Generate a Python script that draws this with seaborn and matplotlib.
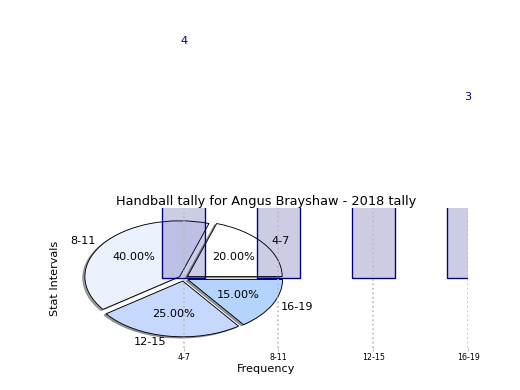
import matplotlib
matplotlib.use("Agg")
import matplotlib.pyplot as plt
import seaborn as sns

# handball counts per stat interval, 2018
intervals = ["4-7", "8-11", "12-15", "16-19"]
tally = [4, 8, 5, 3]
wedge_colors = ["#ffffff", "#ebf1fd", "#c6d8fd", "#b4d4fd"]
explode = [0.05, 0.05, 0.05, 0.05]

fig = plt.figure(figsize=(6.4, 4.8), dpi=81.25)
ax = fig.add_axes([0.125, 0.1077, 0.775, 0.3577])

# pie goes down first, the bars sit on top of it
ax.pie(tally, labels=intervals, colors=wedge_colors, explode=explode,
       autopct='%.2f%%', shadow=True, startangle=0,
       wedgeprops=dict(edgecolor='black', linewidth=0.8))

sns.barplot(x=intervals, y=tally, ax=ax, width=0.45, color='navy',
            saturation=1, edgecolor='navy', linewidth=1.2, legend=False)
for bar in ax.containers[0]:
    bar.set_facecolor((0, 0, 0.5, 0.2))
    bar.set_zorder(2)
if ax.get_legend() is not None:
    ax.get_legend().remove()

for i, v in enumerate(tally):
    ax.text(i, v + 0.2, str(v), ha='center', color='navy')

ax.set_aspect('auto')
ax.set_xticks(range(len(intervals)), intervals)
ax.set_yticks([])
ax.set_xlim(-1.25, 3)
ax.set_ylim(-1.25, 1.25)
ax.set_frame_on(False)
ax.set_axisbelow(False)
ax.grid(axis='x', linestyle=':', color='#bbbbbb', linewidth=1.5)
ax.tick_params(axis='x', labelsize=7, color='#bbbbbb', length=3, pad=1.5)

ax.set_xlabel('Frequency', labelpad=2)
ax.set_ylabel('Stat Intervals')
# seaborn hid the axis labels because the pie had removed the ticks
ax.xaxis.label.set_visible(True)
ax.yaxis.label.set_visible(True)
ax.set_title('Handball tally for Angus Brayshaw - 2018 tally', fontsize=11.4, pad=3)

plt.savefig('out.png')
